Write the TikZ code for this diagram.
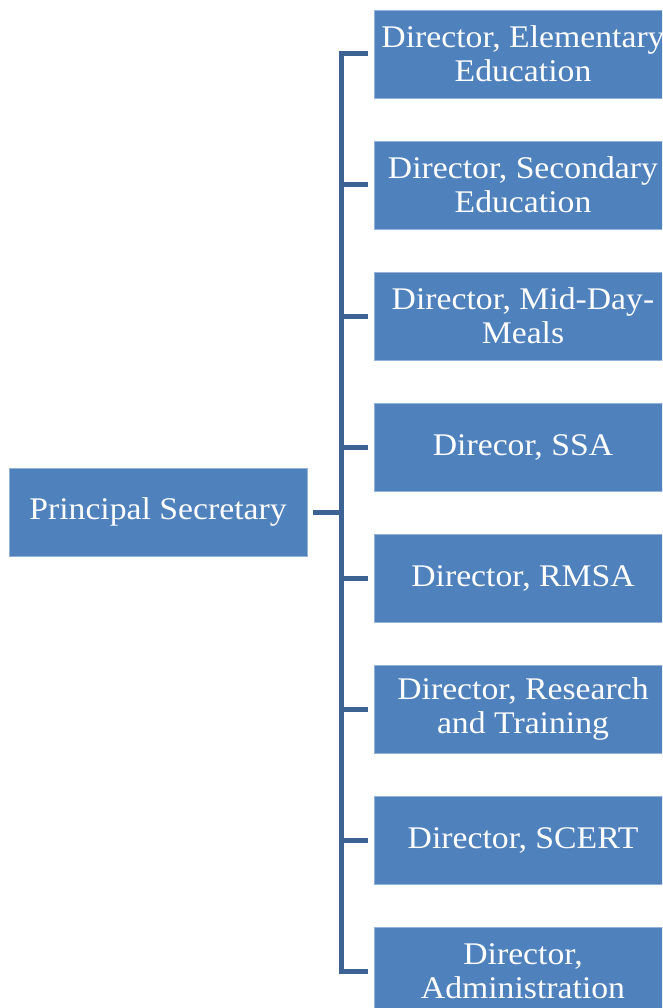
\documentclass[tikz,border=0pt]{standalone}
\usepackage{fontspec}
\setmainfont[FakeStretch=1.07]{Liberation Serif}
\definecolor{boxblue}{RGB}{79,129,189}
\definecolor{boxedge}{RGB}{149,179,215}
\definecolor{linkblue}{RGB}{60,99,148}
\tikzset{
  orgbox/.style={rectangle, fill=boxblue, draw=boxedge, line width=0.8pt,
    minimum width=298pt, minimum height=88pt, inner sep=0pt, align=center,
    text=white, font=\fontsize{31.5}{34}\selectfont},
  conn/.style={draw=linkblue, line width=5pt, line join=miter}
}
\begin{document}
\begin{tikzpicture}[x=1pt,y=-1pt]
\useasboundingbox (0,0) rectangle (662,1008);
\clip (0,0) rectangle (662,1008);
\node[orgbox] (ps) at (158,512) {\raisebox{-2pt}{Principal Secretary}};
\node[orgbox] (d1) at (523,54) {Director, Elementary\\Education};
\node[orgbox] (d2) at (523,185) {Director, Secondary\\Education};
\node[orgbox] (d3) at (523,316) {Director, Mid-Day-\\Meals};
\node[orgbox] (d4) at (523,447) {Direcor, SSA};
\node[orgbox] (d5) at (523,578) {Director, RMSA};
\node[orgbox] (d6) at (523,709) {Director, Research\\and Training};
\node[orgbox] (d7) at (523,840) {Director, SCERT};
\node[orgbox] (d8) at (523,971) {Director,\\Administration};
\coordinate (bus) at (341,512);
\draw[conn] ([xshift=6pt]ps.east) -- (bus);
\foreach \i in {1,...,8}{
  \draw[conn] (bus) |- ([xshift=-6pt]d\i.west);
}
\end{tikzpicture}
\end{document}
